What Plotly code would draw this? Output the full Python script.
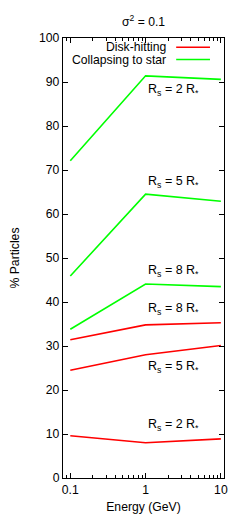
import plotly.graph_objects as go
import math

energy = [0.1, 1, 10]
disk_2 = [9.6, 8.0, 8.9]
disk_5 = [24.5, 28.0, 30.1]
disk_8 = [31.4, 34.8, 35.3]
star_2 = [72.1, 91.4, 90.6]
star_5 = [45.9, 64.5, 62.9]
star_8 = [33.8, 44.1, 43.5]

label_texts = ["R<sub>s</sub> = 2 R<sub>*</sub>", "R<sub>s</sub> = 5 R<sub>*</sub>",
               "R<sub>s</sub> = 8 R<sub>*</sub>", "R<sub>s</sub> = 8 R<sub>*</sub>",
               "R<sub>s</sub> = 5 R<sub>*</sub>", "R<sub>s</sub> = 2 R<sub>*</sub>"]
label_y = [88.2, 67.2, 47.0, 38.3, 25.2, 12.1]
label_x = 1.0

RED = "#ff0000"
GREEN = "#00ff00"
FONT = "Liberation Sans, Arial, sans-serif"
FS = 12.2

fig = go.Figure()
for ys, c in [(disk_2, RED), (disk_5, RED), (disk_8, RED),
              (star_2, GREEN), (star_5, GREEN), (star_8, GREEN)]:
    fig.add_trace(go.Scatter(x=energy, y=ys, mode="lines",
                             line=dict(color=c, width=1.6), showlegend=False,
                             hoverinfo="skip"))

for t, y in zip(label_texts, label_y):
    fig.add_annotation(x=math.log10(label_x), y=y, text=t, showarrow=False,
                       xanchor="left", yanchor="middle", xshift=0,
                       font=dict(size=12.5, color="black", family=FONT))

# legend
legend_names = ["Disk-hitting", "Collapsing to star"]
legend_colors = [RED, GREEN]
legend_y = [0.979, 0.951]
for name, c, ly in zip(legend_names, legend_colors, legend_y):
    fig.add_annotation(xref="paper", yref="paper", x=0.652, y=ly, text=name,
                       showarrow=False, xanchor="right", yanchor="middle",
                       font=dict(size=FS, color="black", family=FONT))
    fig.add_shape(type="line", xref="paper", yref="paper", x0=0.703, x1=0.913,
                  y0=ly, y1=ly, line=dict(color=c, width=1.6))

fig.update_layout(
    width=245, height=518,
    margin=dict(l=63, r=21, t=38, b=40, autoexpand=False),
    paper_bgcolor="white", plot_bgcolor="white",
    font=dict(family=FONT, size=FS, color="black"),
    title=dict(text="σ<sup>2</sup> = 0.1", x=0.586, xanchor="center",
               y=0.958, yanchor="middle", font=dict(size=FS)),
    showlegend=False,
)
fig.update_xaxes(
    type="log", range=[math.log10(0.08), math.log10(11)],
    tickvals=[0.1, 1, 10], ticktext=["0.1", "1", "10"],
    ticks="inside", ticklen=5, tickwidth=1, tickcolor="black",
    minor=dict(ticks="inside", ticklen=2.5, tickcolor="black",
               tickvals=[0.08, 0.09, 0.2, 0.3, 0.4, 0.5, 0.6, 0.7, 0.8, 0.9,
                         2, 3, 4, 5, 6, 7, 8, 9], showgrid=False),
    showline=True, linecolor="black", linewidth=1.3, mirror="allticks",
    showgrid=False, zeroline=False, automargin=False,
    title=dict(text="Energy (GeV)", standoff=6, font=dict(size=FS)),
)
fig.update_yaxes(
    range=[0, 100], tickvals=list(range(0, 101, 10)),
    ticks="inside", ticklen=5, tickwidth=1, tickcolor="black",
    showline=True, linecolor="black", linewidth=1.3, mirror="allticks",
    showgrid=False, zeroline=False, automargin=False,
    title=dict(text="% Particles", standoff=16, font=dict(size=FS)),
)

fig.write_html("out.html", config={"displayModeBar": False},
               post_script="document.body.style.margin='0';document.body.style.padding='0';")
